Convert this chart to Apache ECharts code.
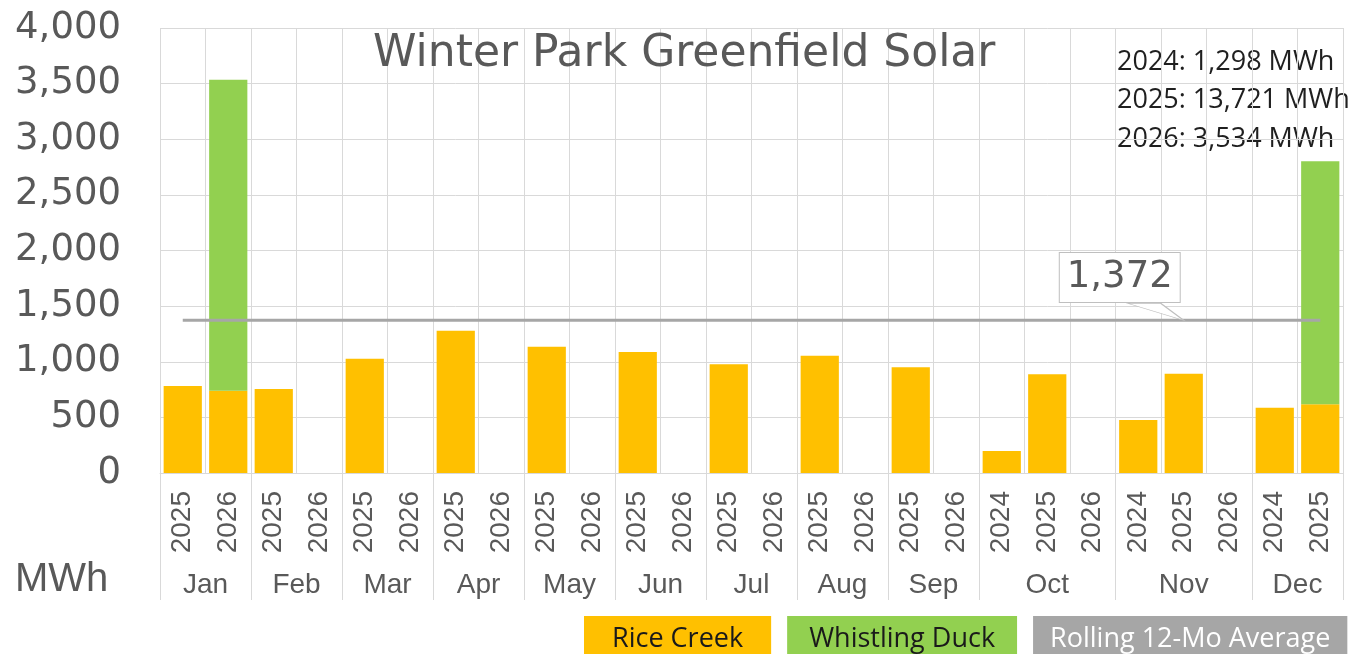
<!DOCTYPE html>
<html>
<head>
<meta charset="utf-8">
<script src="https://cdn.jsdelivr.net/npm/echarts@6/dist/echarts.min.js"></script>
<style>
  html, body { margin: 0; padding: 0; background: #fff; }
  #main { width: 1362px; height: 654px; }
</style>
</head>
<body>
<div id="main"></div>
<script>
// categories: one slot per month/year bar
var years = ['2025','2026','2025','2026','2025','2026','2025','2026','2025','2026',
             '2025','2026','2025','2026','2025','2026','2025','2026',
             '2024','2025','2026','2024','2025','2026','2024','2025'];
var months = ['Jan','Feb','Mar','Apr','May','Jun','Jul','Aug','Sep','Oct','Nov','Dec'];
var monthSlots = [2,2,2,2,2,2,2,2,2,3,3,2];

// MWh per slot
var riceCreek = [782, 740, 755, null, 1027, null, 1279, null, 1135, null,
                 1088, null, 977, null, 1054, null, 950, null,
                 198, 887, null, 476, 893, null, 587, 617];
var whistlingDuck = [null, 2794, null, null, null, null, null, null, null, null,
                     null, null, null, null, null, null, null, null,
                     null, null, null, null, null, null, null, 2185];
var rollingAvg = [1372, 1372, 1372, 1372, 1372, 1372, 1372, 1372, 1372, 1372,
                  1372, 1372, 1372, 1372, 1372, 1372, 1372, 1372,
                  1372, 1372, 1372, 1372, 1372, 1372, 1372, 1372];
var calloutIdx = 22;
var totals = ['2024: 1,298 MWh', '2025: 13,721 MWh', '2026: 3,534 MWh'];

// month boundaries and centers (in slot units)
var monthEdges = [0];
var monthCenters = [];
var centerName = {};
monthSlots.forEach(function (n, i) {
  var start = monthEdges[monthEdges.length - 1];
  monthEdges.push(start + n);
  monthCenters.push(start + n / 2);
  centerName[start + n / 2] = months[i];
});

var grey = '#595959';
var gridCol = '#D9D9D9';

var chart = echarts.init(document.getElementById('main'));
chart.setOption({
  animation: false,
  title: {
    text: 'Winter Park Greenfield Solar',
    left: 373,
    top: 33,
    padding: 0,
    textStyle: { fontFamily: 'DejaVu Sans', fontSize: 44, fontWeight: 'normal', color: grey }
  },
  grid: { left: 160, right: 19, top: 28, bottom: 181 },
  legend: {
    left: 579,
    top: 616,
    padding: 0,
    icon: 'none',
    itemWidth: 0,
    itemHeight: 0,
    itemGap: 11,
    selectedMode: false,
    textStyle: { fontFamily: 'Open Sans', fontSize: 27, lineHeight: 30 },
    data: [
      { name: 'Rice Creek', textStyle: { backgroundColor: '#FFC000', color: '#1a1a1a', padding: [8, 28] } },
      { name: 'Whistling Duck', textStyle: { backgroundColor: '#92D050', color: '#1a1a1a', padding: [8, 22] } },
      { name: 'Rolling 12-Mo Average', textStyle: { backgroundColor: '#A6A6A6', color: '#fff', padding: [8, 17] } }
    ]
  },
  xAxis: [
    {
      type: 'category',
      data: years,
      axisLine: { lineStyle: { color: gridCol } },
      axisTick: { show: false },
      splitLine: { show: true, interval: 0, lineStyle: { color: gridCol } },
      axisLabel: {
        interval: 0, rotate: 90, margin: 18,
        fontFamily: 'Liberation Sans', fontSize: 28, color: grey
      }
    },
    {
      type: 'value',
      position: 'bottom',
      min: 0,
      max: years.length,
      axisLine: { show: false },
      splitLine: { show: false },
      axisTick: {
        show: true, length: 127, customValues: monthEdges,
        lineStyle: { color: gridCol }
      },
      axisLabel: {
        customValues: monthCenters, margin: 98,
        fontFamily: 'Liberation Sans', fontSize: 28, color: grey,
        formatter: function (v) { return centerName[v] || ''; }
      }
    }
  ],
  yAxis: {
    type: 'value',
    min: 0,
    max: 4000,
    interval: 500,
    axisLine: { show: false },
    axisTick: { show: false },
    splitLine: { lineStyle: { color: gridCol } },
    axisLabel: {
      margin: 39,
      fontFamily: 'DejaVu Sans', fontSize: 37, color: grey,
      formatter: function (v) { return v.toLocaleString('en-US'); }
    }
  },
  graphic: [
    {
      type: 'text', x: 15, y: 580,
      style: { text: 'MWh', fontFamily: 'Liberation Sans', fontSize: 40, fill: grey, verticalAlign: 'middle' }
    }
  ].concat(totals.map(function (t, i) {
    return {
      type: 'text', x: 1117, y: 62 + i * 38.5,
      style: { text: t, fontFamily: 'Open Sans', fontSize: 27, fill: '#1f1f1f', verticalAlign: 'middle' }
    };
  })),
  series: [
    {
      name: 'Rice Creek',
      type: 'bar',
      stack: 'mwh',
      barWidth: '84%',
      itemStyle: { color: '#FFC000' },
      data: riceCreek
    },
    {
      name: 'Whistling Duck',
      type: 'bar',
      stack: 'mwh',
      barWidth: '84%',
      itemStyle: { color: '#92D050' },
      data: whistlingDuck
    },
    {
      name: 'Rolling 12-Mo Average',
      type: 'line',
      symbol: 'none',
      showSymbol: true,
      z: 5,
      lineStyle: { color: '#A6A6A6', width: 3 },
      itemStyle: { color: '#A6A6A6' },
      data: rollingAvg.map(function (v, i) {
        if (i !== calloutIdx) return v;
        return {
          value: v,
          symbol: 'path://M0 0 L33 0 L56 17 Z',
          symbolSize: [56, 17],
          symbolOffset: [-28, -8.5],
          itemStyle: { color: '#fff', borderColor: '#BFBFBF', borderWidth: 1 },
          label: {
            show: true,
            position: 'top',
            distance: 1,
            offset: [-36, 0],
            formatter: function (p) { return p.value.toLocaleString('en-US'); },
            fontFamily: 'DejaVu Sans', fontSize: 37, lineHeight: 41, color: grey,
            backgroundColor: '#fff', borderColor: '#BFBFBF', borderWidth: 1,
            padding: [4, 7]
          }
        };
      })
    }
  ]
});
</script>
</body>
</html>
